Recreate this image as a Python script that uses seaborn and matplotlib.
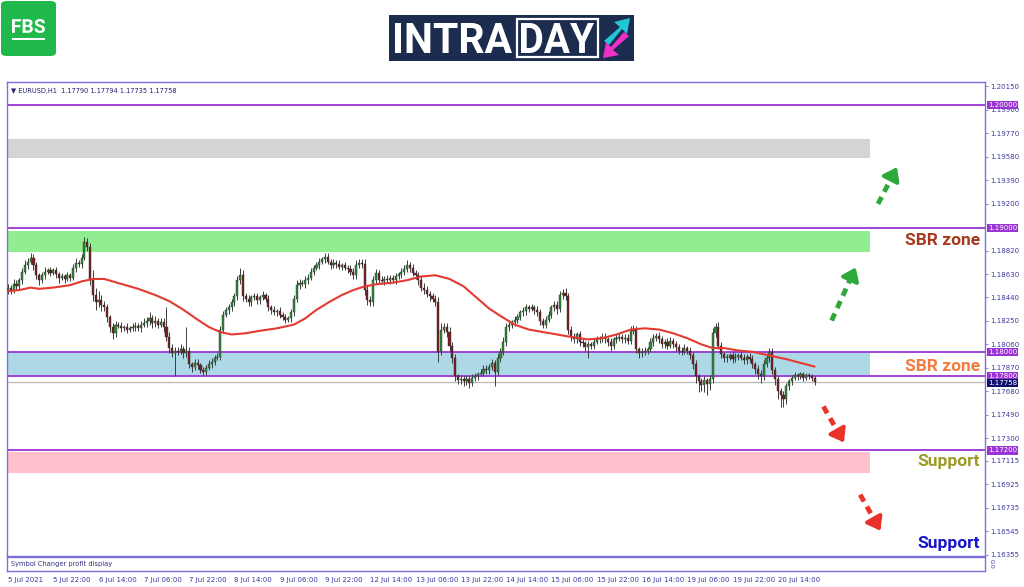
import numpy as np
import pandas as pd
import matplotlib
matplotlib.use("Agg")
import matplotlib.pyplot as plt
import seaborn as sns
from matplotlib.patches import FancyBboxPatch, Rectangle, Polygon, PathPatch
from matplotlib.textpath import TextPath
from matplotlib.font_manager import FontProperties
from matplotlib.transforms import Affine2D

# ---- data (EURUSD H1, 5 Jul - 21 Jul 2021) ----
closes = [
    1.1852, 1.1850, 1.1855, 1.1853, 1.1858, 1.1865, 1.1870, 1.1873, 1.1876, 1.1870,
    1.1862, 1.1858, 1.1862, 1.1865, 1.1866, 1.1864, 1.1866, 1.1863, 1.1860, 1.1861,
    1.1859, 1.1862, 1.1860, 1.1868, 1.1872, 1.1871, 1.1876, 1.1889, 1.1885, 1.1858,
    1.1846, 1.1840, 1.1842, 1.1838, 1.1836, 1.1828, 1.1820, 1.1815, 1.1822, 1.1821,
    1.1819, 1.1820, 1.1818, 1.1819, 1.1820, 1.1821, 1.1819, 1.1822, 1.1823, 1.1825,
    1.1827, 1.1823, 1.1825, 1.1822, 1.1824, 1.1820, 1.1812, 1.1803, 1.1799, 1.1801,
    1.1800, 1.1802, 1.1799, 1.1801, 1.1790, 1.1788, 1.1791, 1.1789, 1.1785, 1.1784,
    1.1787, 1.1790, 1.1792, 1.1795, 1.1796, 1.1818, 1.1830, 1.1834, 1.1836, 1.1840,
    1.1845, 1.1858, 1.1862, 1.1845, 1.1843, 1.1840, 1.1844, 1.1845, 1.1842, 1.1844,
    1.1846, 1.1843, 1.1836, 1.1834, 1.1832, 1.1833, 1.1830, 1.1828, 1.1826, 1.1827,
    1.1832, 1.1843, 1.1854, 1.1856, 1.1855, 1.1858, 1.1860, 1.1865, 1.1868, 1.1870,
    1.1873, 1.1875, 1.1877, 1.1873, 1.1870, 1.1872, 1.1871, 1.1869, 1.1870, 1.1868,
    1.1867, 1.1865, 1.1862, 1.1870, 1.1872, 1.1871, 1.1850, 1.1842, 1.1840, 1.1858,
    1.1864, 1.1858, 1.1857, 1.1859, 1.1858, 1.1860, 1.1858, 1.1861, 1.1863, 1.1865,
    1.1867, 1.1870, 1.1868, 1.1864, 1.1862, 1.1858, 1.1852, 1.1850, 1.1847, 1.1845,
    1.1843, 1.1840, 1.1800, 1.1818, 1.1820, 1.1816, 1.1805, 1.1795, 1.1780, 1.1777,
    1.1778, 1.1776, 1.1778, 1.1775, 1.1779, 1.1780, 1.1782, 1.1783, 1.1786, 1.1785,
    1.1788, 1.1791, 1.1784, 1.1795, 1.1800, 1.1808, 1.1820, 1.1822, 1.1824, 1.1826,
    1.1828, 1.1832, 1.1833, 1.1836, 1.1835, 1.1836, 1.1834, 1.1832, 1.1825, 1.1822,
    1.1826, 1.1830, 1.1836, 1.1838, 1.1835, 1.1846, 1.1848, 1.1845, 1.1818, 1.1812,
    1.1810, 1.1814, 1.1808, 1.1807, 1.1804, 1.1806, 1.1805, 1.1808, 1.1810, 1.1811,
    1.1812, 1.1810, 1.1808, 1.1805, 1.1810, 1.1811, 1.1812, 1.1810, 1.1811, 1.1809,
    1.1817, 1.1818, 1.1802, 1.1799, 1.1800, 1.1801, 1.1802, 1.1808, 1.1811, 1.1813,
    1.1810, 1.1806, 1.1808, 1.1805, 1.1809, 1.1806, 1.1804, 1.1801, 1.1800, 1.1803,
    1.1801, 1.1797, 1.1790, 1.1780, 1.1776, 1.1773, 1.1777, 1.1774, 1.1778, 1.1815,
    1.1820, 1.1805, 1.1798, 1.1795, 1.1795, 1.1797, 1.1794, 1.1796, 1.1797, 1.1795,
    1.1793, 1.1796, 1.1794, 1.1790, 1.1786, 1.1782, 1.1780, 1.1790, 1.1795, 1.1800,
    1.1785, 1.1778, 1.1768, 1.1765, 1.1762, 1.1772, 1.1776, 1.1779, 1.1781, 1.1780,
    1.1782, 1.1779, 1.1781, 1.1780, 1.1779, 1.17758,
]
first_open = 1.1850

# upper / lower wick length in pips beyond the body
up_pips = [
    3, 2, 4, 3, 2, 3, 4, 3, 4, 3,   3, 2, 3, 4, 2, 3, 2, 3, 2, 3,
    2, 3, 2, 3, 4, 2, 3, 4, 3, 3,   8, 6, 7, 4, 3, 3, 2, 3, 3, 2,
    3, 2, 3, 2, 3, 3, 2, 3, 4, 3,   5, 3, 4, 2, 3, 3, 16, 4, 3, 3,
    3, 4, 3, 19, 3, 2, 3, 3, 2, 3,  2, 3, 3, 2, 3, 3, 3, 2, 3, 3,
    3, 3, 6, 4, 3, 3, 2, 3, 3, 2,   3, 2, 3, 2, 3, 2, 3, 2, 3, 2,
    3, 3, 4, 3, 2, 3, 3, 3, 2, 3,   3, 2, 3, 3, 2, 3, 2, 3, 2, 3,
    2, 3, 3, 4, 3, 3, 4, 3, 3, 3,   3, 2, 3, 2, 3, 2, 2, 3, 2, 3,
    3, 4, 3, 3, 2, 3, 3, 4, 3, 2,   3, 3, 4, 5, 3, 3, 4, 3, 3, 2,
    3, 2, 3, 2, 3, 3, 2, 3, 3, 3,   2, 3, 2, 3, 3, 4, 3, 3, 2, 3,
    3, 2, 3, 3, 2, 3, 2, 3, 3, 2,   3, 3, 2, 3, 3, 3, 3, 4, 3, 3,
    3, 2, 3, 3, 2, 3, 2, 3, 3, 2,   3, 3, 2, 3, 2, 3, 3, 2, 3, 3,
    4, 4, 3, 2, 3, 3, 2, 3, 3, 2,   3, 3, 2, 3, 3, 2, 3, 2, 3, 3,
    2, 3, 3, 3, 2, 3, 3, 2, 3, 4,   3, 4, 3, 2, 3, 2, 3, 3, 2, 3,
    3, 2, 3, 3, 2, 3, 3, 3, 3, 3,   3, 3, 2, 3, 3, 3, 2, 2, 3, 2,
    2, 2, 2, 2, 2, 1,
]
dn_pips = [
    3, 3, 2, 3, 2, 3, 2, 3, 2, 4,   3, 4, 2, 3, 2, 3, 2, 3, 4, 2,
    3, 2, 3, 2, 3, 2, 3, 2, 3, 4,   5, 6, 4, 5, 3, 4, 4, 5, 3, 2,
    3, 2, 3, 2, 2, 3, 2, 3, 2, 3,   3, 4, 3, 3, 2, 4, 3, 4, 3, 19,
    3, 2, 4, 3, 3, 4, 3, 3, 2, 3,   3, 2, 3, 3, 2, 3, 3, 2, 3, 3,
    3, 3, 3, 4, 3, 3, 3, 2, 3, 3,   2, 3, 3, 3, 2, 3, 3, 2, 3, 2,
    3, 3, 3, 3, 2, 3, 3, 2, 3, 2,   3, 2, 3, 2, 3, 2, 3, 2, 3, 2,
    3, 3, 3, 3, 2, 3, 4, 4, 3, 3,   3, 3, 2, 3, 2, 3, 2, 3, 2, 3,
    3, 2, 3, 3, 3, 4, 3, 3, 3, 4,   3, 3, 8, 3, 3, 4, 4, 4, 4, 3,
    3, 4, 3, 4, 3, 3, 3, 2, 3, 3,   3, 3, 12, 3, 3, 3, 3, 3, 3, 3,
    3, 2, 3, 3, 3, 2, 3, 3, 3, 3,   3, 2, 3, 3, 4, 3, 3, 3, 4, 3,
    3, 3, 3, 3, 3, 9, 3, 3, 2, 3,   3, 3, 3, 4, 3, 3, 2, 3, 3, 3,
    3, 3, 3, 4, 3, 3, 3, 2, 3, 2,   3, 3, 3, 3, 2, 3, 3, 3, 3, 2,
    3, 3, 4, 5, 9, 5, 6, 9, 5, 3,   3, 3, 3, 3, 3, 2, 3, 2, 3, 2,
    3, 3, 2, 3, 4, 4, 5, 3, 2, 3,   3, 5, 6, 10, 7, 4, 3, 3, 2, 3,
    2, 3, 2, 2, 3, 3,
]

# red moving average, sampled along the bars
ma_bars = [0, 4, 8, 11, 16, 22, 26, 30, 34, 40, 46, 52, 57, 62, 67, 71, 75,
           79, 84, 89, 95, 101, 105, 109, 114, 118, 122, 126, 131, 136, 141,
           146, 151, 156, 161, 166, 170, 174, 179, 184, 189, 194, 199, 205,
           210, 215, 220, 225, 230, 235, 240, 245, 249, 253, 258, 263, 269,
           275, 280, 285]
ma_vals = [1.1849, 1.1850, 1.1852, 1.1851, 1.1852, 1.1854, 1.1857, 1.1859,
           1.1859, 1.1855, 1.1851, 1.1846, 1.1841, 1.1834, 1.1826, 1.1820,
           1.1816, 1.1814, 1.1815, 1.1817, 1.1819, 1.1822, 1.1827, 1.1834,
           1.1841, 1.1846, 1.1850, 1.1853, 1.1855, 1.1856, 1.1858, 1.1861,
           1.1862, 1.1859, 1.1853, 1.1843, 1.1835, 1.1829, 1.1822, 1.1818,
           1.1816, 1.1814, 1.1812, 1.1810, 1.1811, 1.1814, 1.1818, 1.1819,
           1.1818, 1.1815, 1.1811, 1.1806, 1.1803, 1.1803, 1.1801, 1.1800,
           1.1797, 1.1794, 1.1791, 1.1788]

date_labels = ["5 Jul 2021", "5 Jul 22:00", "6 Jul 14:00", "7 Jul 06:00",
               "7 Jul 22:00", "8 Jul 14:00", "9 Jul 06:00", "9 Jul 22:00",
               "12 Jul 14:00", "13 Jul 06:00", "13 Jul 22:00", "14 Jul 14:00",
               "15 Jul 06:00", "15 Jul 22:00", "16 Jul 14:00", "19 Jul 06:00",
               "19 Jul 22:00", "20 Jul 14:00"]
bars_per_label = 16

price_ticks = [1.20150, 1.19960, 1.19770, 1.19580, 1.19390, 1.19200, 1.18820,
               1.18630, 1.18440, 1.18250, 1.18060, 1.17870, 1.17680, 1.17490,
               1.17300, 1.17115, 1.16925, 1.16735, 1.16545, 1.16355]

levels = [1.20000, 1.19000, 1.18000, 1.17800, 1.17200]
last_price = 1.17758

zone_low = [1.19570, 1.18810, 1.17815, 1.17020]
zone_high = [1.19725, 1.18980, 1.18000, 1.17190]
zone_colors = ["#d4d4d4", "#90ee90", "#add8e6", "#ffc0cb"]
zone_end_bar = 304.6

labels_txt = ["SBR zone", "SBR zone", "Support", "Support"]
labels_y = [1.18899, 1.17879, 1.17109, 1.16445]
labels_col = ["#a8381c", "#f57a3d", "#9c9a22", "#1414c8"]

# dashed forecast arrows (bar, price) -> (bar, price)
arrow_from = [(307.4, 1.19198), (291.0, 1.18253), (288.1, 1.17557), (301.1, 1.16842)]
arrow_to = [(314.5, 1.19514), (299.9, 1.18704), (295.8, 1.17247), (308.7, 1.16532)]
arrow_col = ["#2ea83a", "#2ea83a", "#e8322a", "#e8322a"]

# ---- build candles ----
df = pd.DataFrame({"close": closes})
df["bar"] = np.arange(len(df))
df["open"] = [first_open] + closes[:-1]
df["high"] = df[["open", "close"]].max(axis=1) + np.array(up_pips) * 1e-4
df["low"] = df[["open", "close"]].min(axis=1) - np.array(dn_pips) * 1e-4
df["bull"] = df["close"] >= df["open"]

sns.set_style("white")
plt.rcParams["font.family"] = ["DejaVu Sans"]

W, H = 1024, 587
fig = plt.figure(figsize=(W / 100, H / 100), dpi=100)
frame = "#7a72d8"
ax = fig.add_axes([7 / W, 1 - 556 / H, 978 / W, 474 / H])
sub = fig.add_axes([7 / W, 1 - 571 / H, 978 / W, 14 / H])

xmin, xmax = -0.35, 345.2
ax.set_xlim(xmin, xmax)
ax.set_ylim(1.16345, 1.20186)

for lo, hi, c in zip(zone_low, zone_high, zone_colors):
    ax.add_patch(Rectangle((xmin, lo), zone_end_bar - xmin, hi - lo, color=c, lw=0, zorder=1))

for lv in levels:
    ax.axhline(lv, color="#9a34d4", lw=1.3, zorder=2)
ax.axhline(last_price, color="#bdbdbd", lw=1.0, zorder=2)

# wicks and bodies
ax.vlines(df["bar"], df["low"], df["high"], color="#3c3c3c", lw=0.7, zorder=3)
body_h = (df["close"] - df["open"]).where(lambda s: s.abs() > 0.00005, 0.00005)
cols = np.where(df["bull"], "#2e8b3a", "#7a1f24")
ax.bar(df["bar"], body_h, bottom=df["open"], width=0.75, color=cols,
       edgecolor="#2a2a2a", lw=0.3, zorder=4)

sns.lineplot(x=ma_bars, y=ma_vals, ax=ax, color="#e53a30", lw=1.5, zorder=5)

# forecast arrows
for (x0, y0), (x1, y1), c in zip(arrow_from, arrow_to, arrow_col):
    xm = x0 + (x1 - x0) * 0.78
    ym = y0 + (y1 - y0) * 0.78
    ax.plot([x0, xm], [y0, ym], color=c, lw=3.5, dashes=(1.6, 1.2), solid_capstyle="butt", zorder=6)
    ax.annotate("", xy=(x1, y1), xytext=(xm, ym),
                arrowprops=dict(arrowstyle="-|>,head_length=0.6,head_width=0.45",
                                color=c, lw=3, mutation_scale=12), zorder=6)

# zone labels
ytrans = ax.get_yaxis_transform()
for t, y, c in zip(labels_txt, labels_y, labels_col):
    ax.text(0.995, y, t, transform=ytrans, ha="right", va="center",
            fontsize=12.5, fontweight="bold", color=c, family=["Roboto", "DejaVu Sans"], zorder=7)

# right price axis
ax.yaxis.tick_right()
ax.set_yticks(price_ticks)
ax.set_yticklabels([f"{p:.5f}" for p in price_ticks])
ax.tick_params(axis="y", right=True, length=2, width=0.6, color=frame,
               labelsize=5, labelcolor="#3a3aa0", pad=1.5)
ax.set_xticks([])
for s in ax.spines.values():
    s.set_color(frame)
    s.set_linewidth(1.0)

for lv in levels:
    ax.text(1.003, lv, f"{lv:.5f}", transform=ytrans, fontsize=5, color="white",
            va="center", ha="left", zorder=8,
            bbox=dict(boxstyle="square,pad=0.15", fc="#9a34d4", ec="none"))
ax.text(1.003, last_price - 0.0001, f"{last_price:.5f}", transform=ytrans, fontsize=5,
        color="white", va="center", ha="left", zorder=8,
        bbox=dict(boxstyle="square,pad=0.15", fc="#10106e", ec="none"))

ax.text(0.004, 0.988, "\u25bc EURUSD,H1  1.17790 1.17794 1.17735 1.17758",
        transform=ax.transAxes, fontsize=4.8, color="#202070", va="top", ha="left")

# sub panel with the time axis
sub.set_xlim(xmin, xmax)
sub.set_ylim(0, 1)
sub.set_yticks([])
xt = np.arange(len(date_labels)) * bars_per_label
sub.set_xticks(xt)
sub.set_xticklabels(date_labels, ha="left")
sub.tick_params(axis="x", length=3, width=0.6, color=frame, labelsize=5,
                labelcolor="#3a3aa0", pad=1)
for s in sub.spines.values():
    s.set_color(frame)
    s.set_linewidth(1.0)
sub.text(0.004, 0.5, "Symbol Changer profit display", transform=sub.transAxes,
         fontsize=4.8, color="#303080", va="center")
sub.text(1.004, 0.5, "0.0", transform=sub.transAxes, fontsize=4.5, color="#3a3aa0",
         rotation=-90, va="center", ha="left")


# ---- header logos (pixel coordinates, origin top-left) ----
def px_text(s, x0, x1, ytop, ybot, color, weight="bold"):
    tp = TextPath((0, 0), s, size=40, prop=FontProperties(family="Roboto", weight=weight))
    ext = tp.get_extents()
    sx = (x1 - x0) / ext.width
    sy = (ybot - ytop) / ext.height
    tr = Affine2D().translate(-ext.x0, -ext.y0).scale(sx, sy).translate(x0, H - ybot)
    fig.add_artist(PathPatch(tr.transform_path(tp), fc=color, ec="none",
                             transform=None))


fig.add_artist(FancyBboxPatch((1 / W, 1 - 56 / H), 55 / W, 55 / H,
                              boxstyle="round,pad=0,rounding_size=0.006",
                              transform=fig.transFigure, fc="#1fb84b", ec="none"))
px_text("FBS", 12, 45, 19, 33, "white")
fig.add_artist(Rectangle((12 / W, 1 - 40 / H), 33 / W, 2.5 / H, transform=fig.transFigure,
                         fc="white", ec="none"))

fig.add_artist(Rectangle((389 / W, 1 - 61 / H), 245 / W, 46 / H, transform=fig.transFigure,
                         fc="#1c2c4e", ec="none"))
px_text("INTRA", 395, 512, 23, 53, "white")
fig.add_artist(Rectangle((517 / W, 1 - 57 / H), 81 / W, 38 / H, transform=fig.transFigure,
                         fc="none", ec="white", lw=1.6))
px_text("DAY", 521, 594, 23, 53, "white")
# the two small arrows of the logo
cyan = [(604, 41), (620, 27), (614, 22), (630, 18), (627, 34), (622, 29), (609, 45)]
pink = [(629, 36), (613, 50), (619, 55), (603, 58), (606, 42), (611, 47), (624, 32)]
for pts, c in [(cyan, "#21c6d6"), (pink, "#ee2fc8")]:
    fig.add_artist(Polygon([(px / W, 1 - py / H) for px, py in pts], closed=True,
                           transform=fig.transFigure, fc=c, ec="none"))

fig.savefig("out.png", dpi=100)
